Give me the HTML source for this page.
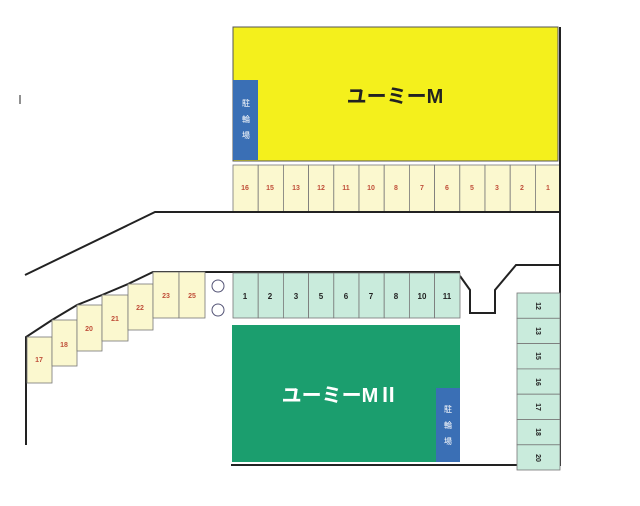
<!DOCTYPE html><html><head><style>body{margin:0;background:#fff}svg{display:block}text{font-family:"Liberation Sans","Noto Sans CJK JP",sans-serif}</style></head><body>
<svg width="640" height="506" viewBox="0 0 640 506">
<rect x="233" y="27" width="325" height="134" fill="#f4f01c" stroke="#555" stroke-width="1"/>
<rect x="233" y="80" width="25" height="80" fill="#3a6fb5"/>
<text x="246" y="106" font-size="8" fill="#fff" text-anchor="middle">駐</text>
<text x="246" y="122" font-size="8" fill="#fff" text-anchor="middle">輪</text>
<text x="246" y="138" font-size="8" fill="#fff" text-anchor="middle">場</text>
<text x="395" y="103" font-size="20" font-weight="bold" fill="#222" text-anchor="middle">ユーミーM</text>
<g fill="#fbf8cf" stroke="#777" stroke-width="0.8">
<rect x="233" y="165" width="25.2" height="47"/><rect x="258.2" y="165" width="25.2" height="47"/><rect x="283.4" y="165" width="25.2" height="47"/><rect x="308.6" y="165" width="25.2" height="47"/><rect x="333.8" y="165" width="25.2" height="47"/><rect x="359" y="165" width="25.2" height="47"/><rect x="384.2" y="165" width="25.2" height="47"/><rect x="409.4" y="165" width="25.2" height="47"/><rect x="434.6" y="165" width="25.2" height="47"/><rect x="459.8" y="165" width="25.2" height="47"/><rect x="485" y="165" width="25.2" height="47"/><rect x="510.2" y="165" width="25.2" height="47"/><rect x="535.4" y="165" width="24.6" height="47"/>
</g>
<g font-size="7" fill="#c0503a" text-anchor="middle" font-weight="bold">
<text x="245" y="190">16</text><text x="270" y="190">15</text><text x="296" y="190">13</text><text x="321" y="190">12</text><text x="346" y="190">11</text><text x="371" y="190">10</text><text x="396" y="190">8</text><text x="422" y="190">7</text><text x="447" y="190">6</text><text x="472" y="190">5</text><text x="497" y="190">3</text><text x="522" y="190">2</text><text x="548" y="190">1</text>
</g>
<g fill="none" stroke="#222" stroke-width="2">
<polyline points="25,275 155,212 560,212"/>
<line x1="560" y1="27" x2="560" y2="466"/>
<polyline points="26,445 26,337 52,320 77,305 102,295 128,284 153,272 460,272"/>
<polyline points="460,276 470,290 470,313 495,313 495,290 516,265 560,265"/>
<line x1="231" y1="465" x2="560" y2="465"/>
<line x1="20" y1="95" x2="20" y2="104" stroke-width="1"/>
</g>
<g fill="#fbf8cf" stroke="#777" stroke-width="0.8">
<rect x="27" y="337" width="25" height="46"/><rect x="52" y="320" width="25" height="46"/><rect x="77" y="305" width="25" height="46"/><rect x="102" y="295" width="26" height="46"/><rect x="128" y="284" width="25" height="46"/><rect x="153" y="272" width="26" height="46"/><rect x="179" y="272" width="26" height="46"/>
</g>
<g font-size="7" fill="#c0503a" text-anchor="middle" font-weight="bold">
<text x="39" y="362">17</text><text x="64" y="347">18</text><text x="89" y="331">20</text><text x="115" y="321">21</text><text x="140" y="310">22</text><text x="166" y="298">23</text><text x="192" y="298">25</text>
</g>
<circle cx="218" cy="286" r="6" fill="none" stroke="#557" stroke-width="1"/>
<circle cx="218" cy="310" r="6" fill="none" stroke="#557" stroke-width="1"/>
<g fill="#c9ebdc" stroke="#777" stroke-width="0.8">
<rect x="233" y="273" width="25.2" height="45"/><rect x="258.2" y="273" width="25.2" height="45"/><rect x="283.4" y="273" width="25.2" height="45"/><rect x="308.6" y="273" width="25.2" height="45"/><rect x="333.8" y="273" width="25.2" height="45"/><rect x="359" y="273" width="25.2" height="45"/><rect x="384.2" y="273" width="25.2" height="45"/><rect x="409.4" y="273" width="25.2" height="45"/><rect x="434.6" y="273" width="25.4" height="45"/>
</g>
<g font-size="8" fill="#222" text-anchor="middle" font-weight="bold">
<text x="245" y="299">1</text><text x="270" y="299">2</text><text x="296" y="299">3</text><text x="321" y="299">5</text><text x="346" y="299">6</text><text x="371" y="299">7</text><text x="396" y="299">8</text><text x="422" y="299">10</text><text x="447" y="299">11</text>
</g>
<rect x="232" y="325" width="228" height="137" fill="#1b9e6e"/>
<rect x="436" y="388" width="24" height="74" fill="#3a6fb5"/>
<text x="448" y="412" font-size="8" fill="#fff" text-anchor="middle">駐</text>
<text x="448" y="428" font-size="8" fill="#fff" text-anchor="middle">輪</text>
<text x="448" y="444" font-size="8" fill="#fff" text-anchor="middle">場</text>
<text x="340" y="402" font-size="20" font-weight="bold" fill="#fff" text-anchor="middle">ユーミーMⅡ</text>
<g fill="#c9ebdc" stroke="#777" stroke-width="0.8">
<rect x="517" y="293" width="43" height="25.3"/><rect x="517" y="318.3" width="43" height="25.3"/><rect x="517" y="343.6" width="43" height="25.3"/><rect x="517" y="368.9" width="43" height="25.3"/><rect x="517" y="394.2" width="43" height="25.3"/><rect x="517" y="419.5" width="43" height="25.3"/><rect x="517" y="444.8" width="43" height="25.2"/>
</g>
<g font-size="7" fill="#222" text-anchor="middle" font-weight="bold">
<text transform="translate(536,306) rotate(90)">12</text><text transform="translate(536,331) rotate(90)">13</text><text transform="translate(536,356) rotate(90)">15</text><text transform="translate(536,382) rotate(90)">16</text><text transform="translate(536,407) rotate(90)">17</text><text transform="translate(536,432) rotate(90)">18</text><text transform="translate(536,458) rotate(90)">20</text>
</g>
</svg></body></html>
